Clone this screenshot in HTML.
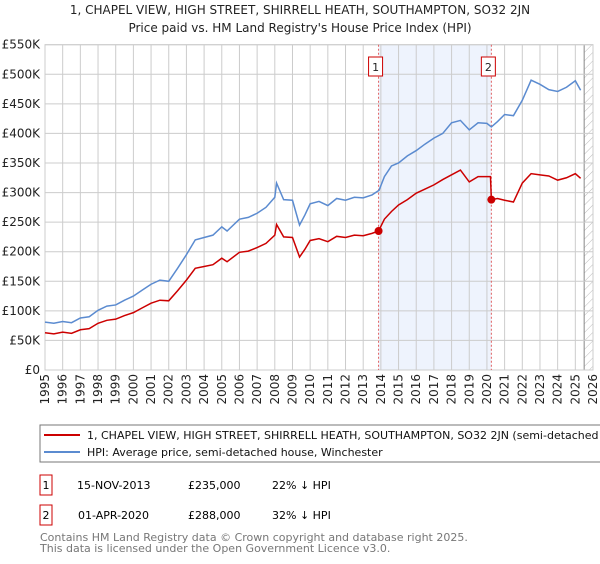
<!DOCTYPE html>
<html><head><meta charset="utf-8"><style>
body{margin:0;background:#fff;font-family:"DejaVu Sans","Liberation Sans",sans-serif;}
svg text{font-family:"DejaVu Sans","Liberation Sans",sans-serif;}
</style></head><body>
<svg id="c" width="600" height="560" viewBox="0 0 600 560" xmlns="http://www.w3.org/2000/svg">
<defs><pattern id="hatch" width="6" height="6" patternUnits="userSpaceOnUse" patternTransform="rotate(45)"><line x1="0" y1="0" x2="0" y2="6" stroke="#bbb" stroke-width="1"/></pattern></defs>
<text x="300" y="14" text-anchor="middle" font-size="12" fill="#222">1, CHAPEL VIEW, HIGH STREET, SHIRRELL HEATH, SOUTHAMPTON, SO32 2JN</text>
<text x="300" y="32" text-anchor="middle" font-size="12" fill="#222">Price paid vs. HM Land Registry's House Price Index (HPI)</text>
<g id="grid"></g><g id="marks"></g><g id="axes"></g>
<rect x="40" y="425" width="575" height="37" fill="#fff" stroke="#777"/>
<line x1="44" y1="435" x2="80" y2="435" stroke="#cc0000" stroke-width="2"/>
<text x="87" y="439" font-size="11" fill="#111">1, CHAPEL VIEW, HIGH STREET, SHIRRELL HEATH, SOUTHAMPTON, SO32 2JN (semi-detached house)</text>
<line x1="44" y1="452" x2="80" y2="452" stroke="#5b8bd0" stroke-width="2"/>
<text x="87" y="456" font-size="11" fill="#111">HPI: Average price, semi-detached house, Winchester</text>
<g>
<rect x="40" y="475" width="12" height="20" fill="#fff" stroke="#cc0000"/><text x="46" y="489" text-anchor="middle" font-size="11">1</text>
<text x="77" y="489" font-size="11">15-NOV-2013</text><text x="188" y="489" font-size="11">£235,000</text><text x="272" y="489" font-size="11">22% ↓ HPI</text></g>
<g>
<rect x="40" y="505" width="12" height="20" fill="#fff" stroke="#cc0000"/><text x="46" y="519" text-anchor="middle" font-size="11">2</text>
<text x="78" y="519" font-size="11">01-APR-2020</text><text x="188" y="519" font-size="11">£288,000</text><text x="272" y="519" font-size="11">32% ↓ HPI</text></g>
<text x="40" y="541" font-size="11" fill="#777">Contains HM Land Registry data © Crown copyright and database right 2025.</text>
<text x="40" y="552" font-size="11" fill="#777">This data is licensed under the Open Government Licence v3.0.</text>
</svg>
<script>
const hpiYears=[1995,1995.5,1996,1996.5,1997,1997.5,1998,1998.5,1999,1999.5,2000,2000.5,2001,2001.5,2002,2002.5,2003,2003.5,2004,2004.5,2005,2005.3,2006,2006.5,2007,2007.5,2008,2008.1,2008.5,2009,2009.4,2009.7,2010,2010.5,2011,2011.5,2012,2012.5,2013,2013.5,2013.9,2014.2,2014.6,2015,2015.5,2016,2016.5,2017,2017.5,2018,2018.5,2019,2019.5,2020,2020.25,2020.6,2021,2021.5,2022,2022.5,2023,2023.5,2024,2024.5,2025,2025.3];
const hpiValues=[81,79,82,80,88,90,101,108,110,118,125,135,145,152,150,172,195,220,224,228,242,235,255,258,265,275,292,316,288,287,245,262,281,285,278,290,287,292,291,296,304,327,345,350,362,371,382,392,400,418,422,406,418,417,411,420,432,430,456,490,483,474,471,478,489,473];
const propYears=[1995,1995.5,1996,1996.5,1997,1997.5,1998,1998.5,1999,1999.5,2000,2000.5,2001,2001.5,2002,2002.5,2003,2003.5,2004,2004.5,2005,2005.3,2006,2006.5,2007,2007.5,2008,2008.1,2008.5,2009,2009.4,2009.7,2010,2010.5,2011,2011.5,2012,2012.5,2013,2013.5,2013.87,2014.2,2014.6,2015,2015.5,2016,2016.5,2017,2017.5,2018,2018.5,2019,2019.5,2020,2020.2,2020.25,2020.6,2021,2021.5,2022,2022.5,2023,2023.5,2024,2024.5,2025,2025.3];
const propValues=[63,61,64,62,68,70,79,84,86,92,97,105,113,118,117,134,152,172,175,178,189,183,199,201,207,214,228,246,225,224,191,204,219,222,217,226,224,228,227,231,235,255,268,279,288,299,306,313,322,330,338,318,327,327,327,288,290,287,284,316,332,330,328,321,325,332,324];
const sales=[{n:"1",year:2013.87,value:235},{n:"2",year:2020.25,value:288}];
const yTicks=[0,50,100,150,200,250,300,350,400,450,500,550];
const xTicks=[];for(let y=1995;y<=2026;y++)xTicks.push(y);
const X0=45,X1=593,Y0=370,Y1=44.7;
const x=y=>X0+(y-1995)/(2026-1995)*(X1-X0);
const yv=v=>Y0-v/550*(Y0-Y1);
const NS="http://www.w3.org/2000/svg";
function mk(tag,attrs,parent){const e=document.createElementNS(NS,tag);for(const k in attrs)e.setAttribute(k,attrs[k]);parent.appendChild(e);return e;}
const grid=document.getElementById('grid'),marks=document.getElementById('marks'),axes=document.getElementById('axes');
// shading
const sh=mk('rect',{x:x(sales[0].year),y:Y1,width:x(sales[1].year)-x(sales[0].year),height:Y0-Y1,fill:'#eef3fd'},grid);


const hat=mk('rect',{x:x(2025.5),y:Y1,width:X1-x(2025.5),height:Y0-Y1,fill:'url(#hatch)'},grid);


mk('line',{x1:x(2025.5),y1:Y1,x2:x(2025.5),y2:Y0,stroke:'#888'},grid);
yTicks.forEach(t=>{
 mk('line',{x1:X0,y1:yv(t),x2:X1,y2:yv(t),stroke:'#ccc'},grid);
 const tx=mk('text',{x:40,y:yv(t)+4,'text-anchor':'end','font-size':12,fill:'#222'},axes);
 tx.textContent=t===0?'£0':'£'+t+'K';
 
 
});
xTicks.forEach(t=>{
 mk('line',{x1:x(t),y1:Y1,x2:x(t),y2:Y0,stroke:'#ccc'},grid);
 const tx=mk('text',{x:x(t)+4,y:374,'text-anchor':'end','font-size':12,fill:'#222',transform:`rotate(-90 ${x(t)+4} 374)`},axes);
 tx.textContent=t;
 
 
});
mk('rect',{x:X0,y:Y1,width:X1-X0,height:Y0-Y1,fill:'none',stroke:'#ccc'},grid);
sales.forEach(s=>{
 const l=mk('line',{x1:x(s.year),y1:Y1,x2:x(s.year),y2:Y0,stroke:'#e06060','stroke-dasharray':'2,2'},marks);
 
 
});
const hp=mk('polyline',{points:hpiYears.map((t,i)=>x(t)+','+yv(hpiValues[i])).join(' '),fill:'none',stroke:'#5b8bd0','stroke-width':1.5},marks);


const pp=mk('polyline',{points:propYears.map((t,i)=>x(t)+','+yv(propValues[i])).join(' '),fill:'none',stroke:'#cc0000','stroke-width':1.5},marks);


sales.forEach(s=>{
 const c=mk('circle',{cx:x(s.year),cy:yv(s.value),r:4,fill:'#cc0000'},marks);
 
 
 const g=mk('g',{},marks);
 
 
 mk('rect',{x:x(s.year)-10,y:57,width:14,height:19,fill:'#fff',stroke:'#cc0000'},g);
 const t=mk('text',{x:x(s.year)-3,y:71,'text-anchor':'middle','font-size':11,fill:'#222'},g);
 t.textContent=s.n;
});
</script>
</body></html>
